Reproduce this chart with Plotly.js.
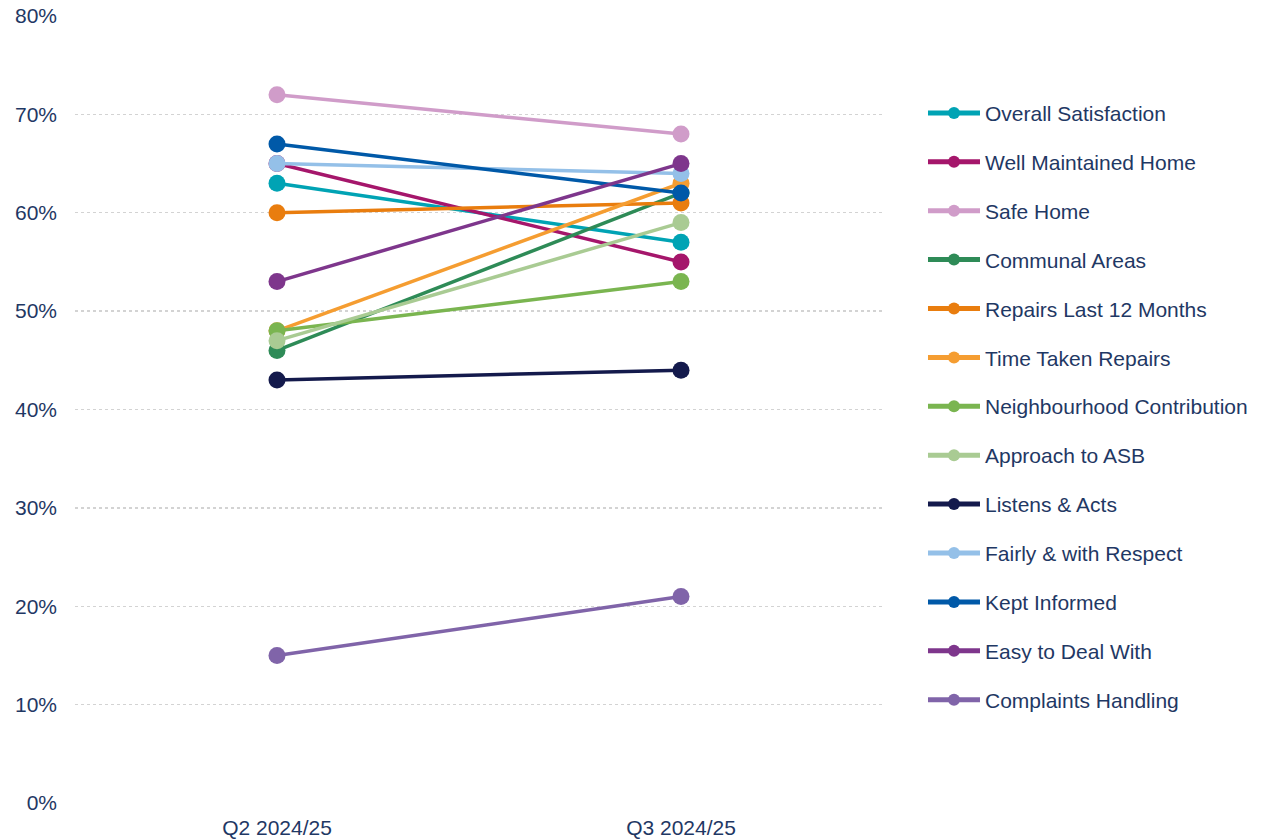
<!DOCTYPE html>
<html>
<head>
<meta charset="utf-8">
<script src="https://cdn.plot.ly/plotly-3.0.1.min.js"></script>
<style>
  html, body { margin: 0; padding: 0; background: #fff; }
  #chart { width: 1266px; height: 839px; }
</style>
</head>
<body>
<div id="chart"></div>
<script>
// Survey periods on the x axis
const periods = ["Q2 2024/25", "Q3 2024/25"];

// Satisfaction measures (legend order)
const measures = [
  "Overall Satisfaction",
  "Well Maintained Home",
  "Safe Home",
  "Communal Areas",
  "Repairs Last 12 Months",
  "Time Taken Repairs",
  "Neighbourhood Contribution",
  "Approach to ASB",
  "Listens & Acts",
  "Fairly & with Respect",
  "Kept Informed",
  "Easy to Deal With",
  "Complaints Handling"
];

// Share satisfied in each period, one value per measure
const q2Values = [0.63, 0.65, 0.72, 0.46, 0.60, 0.48, 0.48, 0.47, 0.43, 0.65, 0.67, 0.53, 0.15];
const q3Values = [0.57, 0.55, 0.68, 0.62, 0.61, 0.63, 0.53, 0.59, 0.44, 0.64, 0.62, 0.65, 0.21];

// Line colour per measure
const seriesColors = [
  "#00A3B4", "#A5166B", "#D09CC9", "#2E8B57", "#E97D0E", "#F59D31", "#7AB550",
  "#A9CB93", "#141A4C", "#94C0E8", "#0059A8", "#7E368C", "#8064A9"
];

// Y axis ticks
const yTickVals = [0, 0.1, 0.2, 0.3, 0.4, 0.5, 0.6, 0.7, 0.8];
const yTickText = ["0%", "10%", "20%", "30%", "40%", "50%", "60%", "70%", "80%"];

const textColor = "#1F3864";
const fontFamily = "Liberation Sans, Arial, sans-serif";

const traces = measures.map((name, i) => ({
  type: "scatter",
  mode: "lines+markers",
  name: name,
  legendgroup: "g" + i,
  x: periods,
  y: [q2Values[i], q3Values[i]],
  line: { color: seriesColors[i], width: 3.5 },
  marker: { color: seriesColors[i], size: 17 },
  hoverinfo: "name+y"
}));

const layout = {
  width: 1266,
  height: 839,
  margin: { l: 75, r: 383, t: 16, b: 36, pad: 0 },
  paper_bgcolor: "#ffffff",
  plot_bgcolor: "#ffffff",
  font: { family: fontFamily, size: 21, color: textColor },
  showlegend: true,
  legend: {
    x: 1.0495, xanchor: "left",
    y: 0.9025, yanchor: "top",
    traceorder: "grouped",
    tracegroupgap: 18.6,
    itemsizing: "constant",
    itemwidth: 52,
    font: { family: fontFamily, size: 21, color: textColor },
    bgcolor: "rgba(0,0,0,0)"
  },
  xaxis: {
    type: "category",
    range: [-0.5, 1.5],
    showgrid: false,
    zeroline: false,
    showline: false,
    ticks: "",
    ticklabelstandoff: 10,
    tickfont: { family: fontFamily, size: 21, color: textColor },
    fixedrange: true
  },
  yaxis: {
    range: [0, 0.8],
    tickvals: yTickVals,
    ticktext: yTickText,
    showgrid: true,
    gridcolor: "#D3D3D3",
    griddash: "dot",
    gridwidth: 1.3,
    zeroline: false,
    showline: false,
    ticks: "",
    ticklabelstandoff: 17,
    tickfont: { family: fontFamily, size: 21, color: textColor },
    fixedrange: true
  }
};

Plotly.newPlot("chart", traces, layout, { displayModeBar: false, staticPlot: true });
</script>
</body>
</html>
